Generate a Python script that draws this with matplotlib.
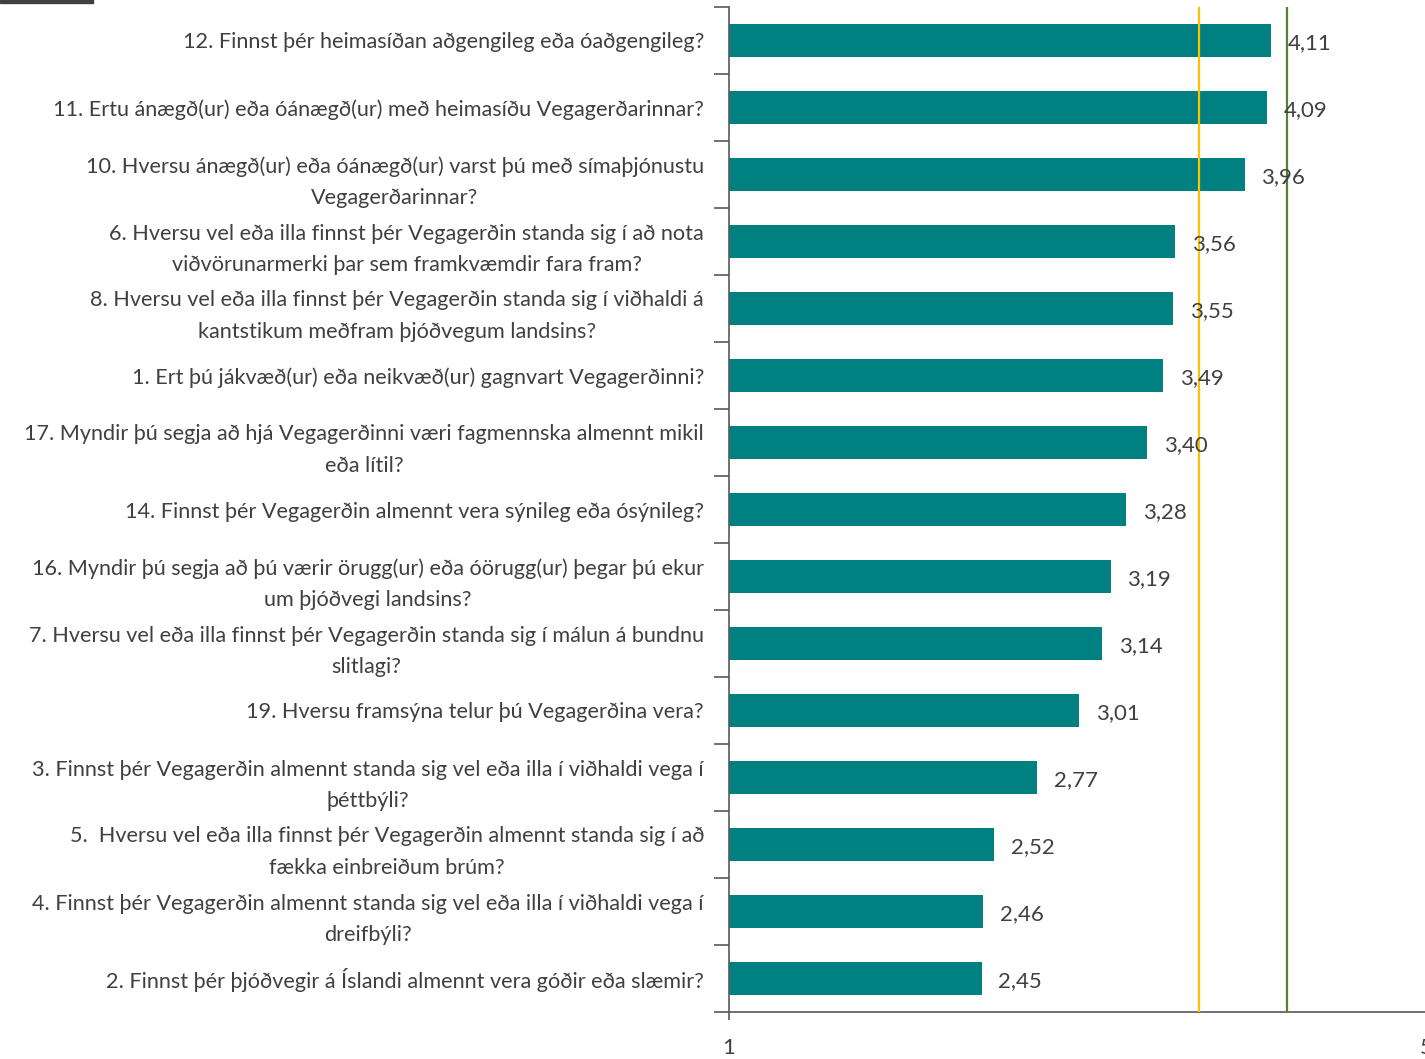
import matplotlib.pyplot as plt
import matplotlib.patches as mpatches
import numpy as np

questions = [
    "12. Finnst þér heimasíðan aðgengileg eða óaðgengileg?",
    "11. Ertu ánægð(ur) eða óánægð(ur) með heimasíðu Vegagerðarinnar?",
    "10. Hversu ánægð(ur) eða óánægð(ur) varst þú með símaþjónustu\nVegagerðarinnar?",
    "6. Hversu vel eða illa finnst þér Vegagerðin standa sig í að nota\nviðvörunarmerki þar sem framkvæmdir fara fram?",
    "8. Hversu vel eða illa finnst þér Vegagerðin standa sig í viðhaldi á\nkantstikum meðfram þjóðvegum landsins?",
    "1. Ert þú jákvæð(ur) eða neikvæð(ur) gagnvart Vegagerðinni?",
    "17. Myndir þú segja að hjá Vegagerðinni væri fagmennska almennt mikil\neða lítil?",
    "14. Finnst þér Vegagerðin almennt vera sýnileg eða ósýnileg?",
    "16. Myndir þú segja að þú værir örugg(ur) eða óörugg(ur) þegar þú ekur\num þjóðvegi landsins?",
    "7. Hversu vel eða illa finnst þér Vegagerðin standa sig í málun á bundnu\nslitlagi?",
    "19. Hversu framsýna telur þú Vegagerðina vera?",
    "3. Finnst þér Vegagerðin almennt standa sig vel eða illa í viðhaldi vega í\nþéttbýli?",
    "5.  Hversu vel eða illa finnst þér Vegagerðin almennt standa sig í að\nfækka einbreiðum brúm?",
    "4. Finnst þér Vegagerðin almennt standa sig vel eða illa í viðhaldi vega í\ndreifbýli?",
    "2. Finnst þér þjóðvegir á Íslandi almennt vera góðir eða slæmir?",
]
scores = [4.11, 4.09, 3.96, 3.56, 3.55, 3.49, 3.40, 3.28, 3.19, 3.14, 3.01, 2.77, 2.52, 2.46, 2.45]
ref_yellow = 3.7
ref_green = 4.2
x_ticks = [1, 5]

plt.rcParams['font.family'] = ['Lato', 'DejaVu Sans']
text_color = '#404040'
axis_color = '#595959'

fig = plt.figure(figsize=(14.25, 10.59), dpi=100)
ax = fig.add_axes([729 / 1425, 47 / 1059, 697 / 1425, 1005 / 1059])

y = np.arange(len(scores))
ax.barh(y, np.array(scores) - 1, left=1, height=0.5, color='#008080', zorder=2)

for yi, v in zip(y, scores):
    ax.annotate(f"{v:.2f}".replace('.', ','), (v, yi), xytext=(12, -2),
                textcoords='offset points', va='center', ha='left',
                fontsize=16, color=text_color, zorder=4)

ax.axvline(ref_yellow, color='#FFC000', linewidth=1.6, zorder=3)
ax.axvline(ref_green, color='#548235', linewidth=1.6, zorder=3)

ax.set_xlim(1, 5)
ax.set_ylim(len(scores) - 0.5, -0.5)
ax.set_xticks(x_ticks)
ax.set_xticklabels([str(t) for t in x_ticks], fontsize=16, color=text_color)
ax.set_yticks(y)
ax.set_yticklabels(questions, fontsize=15.6, color=text_color, multialignment='center',
                   linespacing=1.7)
ax.set_yticks(np.arange(len(scores) + 1) - 0.5, minor=True)
ax.tick_params(axis='y', which='major', length=0, pad=18)
ax.tick_params(axis='y', which='minor', length=11, width=1.2, color=axis_color, direction='out')
ax.tick_params(axis='x', length=6, width=1.2, color=axis_color, pad=13)

for side in ['top', 'right']:
    ax.spines[side].set_visible(False)
for side in ['left', 'bottom']:
    ax.spines[side].set_color(axis_color)
    ax.spines[side].set_linewidth(1.2)

fig.patches.append(mpatches.Rectangle((0, 1 - 3 / 1059), 93 / 1425, 3 / 1059,
                                      transform=fig.transFigure, color='#404040'))

plt.savefig('out.png', dpi=100)
plt.close()
